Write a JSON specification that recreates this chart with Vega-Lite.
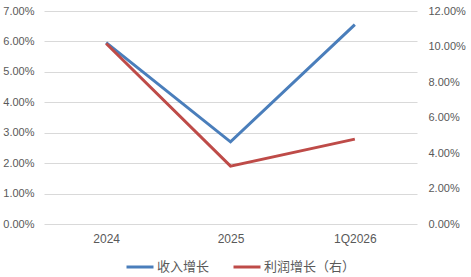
{
  "$schema": "https://vega.github.io/schema/vega-lite/v6.json",
  "width": 373,
  "height": 213,
  "autosize": {"type": "none"},
  "padding": {"left": 44, "top": 11, "right": 54, "bottom": 53},
  "background": "white",
  "config": {"view": {"stroke": null}, "font": "Liberation Sans"},
  "data": {
    "values": [
      {"period": "2024", "series": "收入增长", "value": 0.0596},
      {"period": "2025", "series": "收入增长", "value": 0.0270},
      {"period": "1Q2026", "series": "收入增长", "value": 0.0655},
      {"period": "2024", "series": "利润增长（右）", "value": 0.1017},
      {"period": "2025", "series": "利润增长（右）", "value": 0.0326},
      {"period": "1Q2026", "series": "利润增长（右）", "value": 0.0478}
    ]
  },
  "encoding": {
    "x": {
      "field": "period",
      "type": "ordinal",
      "sort": null,
      "title": null,
      "axis": {
        "labelAngle": 0,
        "domain": false,
        "ticks": false,
        "labelPadding": 9,
        "labelFontSize": 12,
        "labelColor": "#595959",
        "grid": false
      }
    },
    "color": {
      "field": "series",
      "type": "nominal",
      "scale": {"domain": ["收入增长", "利润增长（右）"], "range": ["#4a7ebb", "#be4b48"]},
      "legend": {
        "orient": "none",
        "legendX": 81,
        "legendY": 241,
        "title": null,
        "direction": "horizontal",
        "symbolType": "stroke",
        "symbolStrokeWidth": 3,
        "symbolSize": 729,
        "labelOffset": 2,
        "labelFont": "Noto Sans CJK SC",
        "labelFontSize": 13,
        "labelColor": "#595959",
        "columnPadding": 17
      }
    }
  },
  "layer": [
    {
      "transform": [{"filter": "datum.series === '收入增长'"}],
      "mark": {"type": "line", "strokeWidth": 3},
      "encoding": {
        "y": {
          "field": "value",
          "type": "quantitative",
          "title": null,
          "scale": {"domain": [0, 0.07], "nice": false},
          "axis": {
            "orient": "left",
            "format": ".2%",
            "values": [0, 0.01, 0.02, 0.03, 0.04, 0.05, 0.06, 0.07],
            "domain": false,
            "ticks": false,
            "labelPadding": 10,
            "labelFontSize": 11,
            "labelColor": "#595959",
            "gridColor": "#d9d9d9",
            "gridWidth": 1
          }
        }
      }
    },
    {
      "transform": [{"filter": "datum.series === '利润增长（右）'"}],
      "mark": {"type": "line", "strokeWidth": 3},
      "encoding": {
        "y": {
          "field": "value",
          "type": "quantitative",
          "title": null,
          "scale": {"domain": [0, 0.12], "nice": false},
          "axis": {
            "orient": "right",
            "format": ".2%",
            "values": [0, 0.02, 0.04, 0.06, 0.08, 0.1, 0.12],
            "domain": false,
            "ticks": false,
            "grid": false,
            "labelPadding": 11,
            "labelFontSize": 11,
            "labelColor": "#595959"
          }
        }
      }
    }
  ],
  "resolve": {"scale": {"y": "independent"}}
}
